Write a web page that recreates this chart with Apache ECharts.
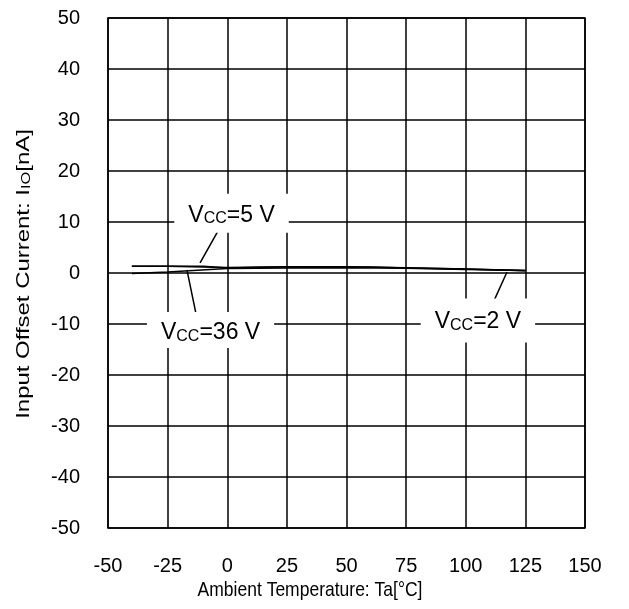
<!DOCTYPE html>
<html>
<head>
<meta charset="utf-8">
<script src="https://cdn.jsdelivr.net/npm/echarts@6/dist/echarts.min.js"></script>
<style>
  html, body { margin: 0; padding: 0; background: #fff; }
  #main { width: 629px; height: 609px; }
</style>
</head>
<body>
<div id="main"></div>
<script>
// 数据
var temps5 = [-40, -25, -10, 0, 15, 25, 50, 60, 75, 100, 125];
var io5 = [1.3, 1.3, 1.3, 1.0, 1.15, 1.2, 1.2, 1.2, 1.0, 0.8, 0.5];
var temps36 = [-40, -25, 0, 25, 50, 75, 100, 125];
var io36 = [-0.1, 0.2, 0.9, 1.0, 1.05, 0.95, 0.7, 0.5];
var temps2 = [-40, -25, 0, 25, 50, 75, 100, 125];
var io2 = [1.3, 1.3, 1.1, 1.25, 1.25, 1.05, 0.8, 0.45];

var xTicks = [-50, -25, 0, 25, 50, 75, 100, 125, 150];
var yTicks = [-50, -40, -30, -20, -10, 0, 10, 20, 30, 40, 50];

// 标注: 标签位置, 引线起点/终点 (数据坐标)
var label5 = { text: '=5 V', pos: [1.8, 11.7], lead: [[-3.9, 8.2], [-11.4, 2.0]] };
var label36 = { text: '=36 V', pos: [-7.0, -11.2], lead: [[-16.9, 0.6], [-13.1, -8.0]] };
var label2 = { text: '=2 V', pos: [105.1, -9.3], lead: [[117.3, 0.2], [111.0, -6.3]] };

function zip(xs, ys) {
    return xs.map(function (x, i) { return [x, ys[i]]; });
}

var font = 'Liberation Sans, Arial, sans-serif';

function makeSeries(xs, ys, lab, pad) {
    return {
        type: 'line',
        data: zip(xs, ys),
        symbol: 'none',
        lineStyle: { color: '#000', width: 1.5 },
        animation: false,
        markLine: {
            silent: true,
            symbol: ['none', 'none'],
            lineStyle: { color: '#000', width: 1.5, type: 'solid' },
            label: { show: false },
            data: [[{ coord: lab.lead[0] }, { coord: lab.lead[1] }]]
        },
        markPoint: {
            silent: true,
            symbol: 'rect',
            symbolSize: 1,
            itemStyle: { color: 'rgba(0,0,0,0)' },
            label: {
                show: true,
                position: 'inside',
                formatter: '{v|V}{s|CC}{v|' + lab.text + '}',
                backgroundColor: '#fff',
                padding: pad,
                rich: {
                    v: { fontSize: 23, fontFamily: font, color: '#000', lineHeight: 26, verticalAlign: 'bottom' },
                    s: { fontSize: 16, fontFamily: font, color: '#000', lineHeight: 22, verticalAlign: 'bottom' }
                }
            },
            data: [{ coord: lab.pos }]
        }
    };
}

var myChart = echarts.init(document.getElementById('main'));
var option = {
    backgroundColor: '#fff',
    animation: false,
    grid: {
        left: 108,
        right: 44,
        top: 18,
        bottom: 81,
        show: true,
        borderColor: '#000',
        borderWidth: 1.5
    },
    graphic: [
        {
            type: 'text',
            x: 310,
            y: 590,
            scaleY: 1.2,
            style: {
                text: 'Ambient Temperature: Ta[°C]',
                fontSize: 17.5,
                fontFamily: font,
                fill: '#000',
                align: 'center',
                verticalAlign: 'middle'
            }
        },
        {
            type: 'text',
            x: 22,
            y: 274,
            rotation: Math.PI / 2,
            scaleX: 1.26,
            style: {
                text: '{n|Input Offset Current: I}{s|IO}{n|[nA]}',
                align: 'center',
                verticalAlign: 'middle',
                rich: {
                    n: { fontSize: 19, fontFamily: font, fill: '#000', lineHeight: 22, verticalAlign: 'bottom' },
                    s: { fontSize: 13, fontFamily: font, fill: '#000', lineHeight: 20, verticalAlign: 'bottom' }
                }
            }
        }
    ],
    xAxis: {
        type: 'value',
        min: xTicks[0],
        max: xTicks[xTicks.length - 1],
        interval: 25,
        axisLine: { show: false },
        axisTick: { show: false },
        axisLabel: { color: '#000', fontSize: 20, fontFamily: font, margin: 28 },
        splitLine: { show: true, lineStyle: { color: '#000', width: 1.5 } }
    },
    yAxis: {
        type: 'value',
        min: yTicks[0],
        max: yTicks[yTicks.length - 1],
        interval: 10,
        axisLine: { show: false },
        axisTick: { show: false },
        axisLabel: { color: '#000', fontSize: 20, fontFamily: font, margin: 28 },
        splitLine: { show: true, lineStyle: { color: '#000', width: 1.5 } }
    },
    series: [
        makeSeries(temps5, io5, label5, [7, 14, 6, 14]),
        makeSeries(temps36, io36, label36, [6, 14, 4, 14]),
        makeSeries(temps2, io2, label2, [9, 14, 9, 14])
    ]
};
myChart.setOption(option);
</script>
</body>
</html>
